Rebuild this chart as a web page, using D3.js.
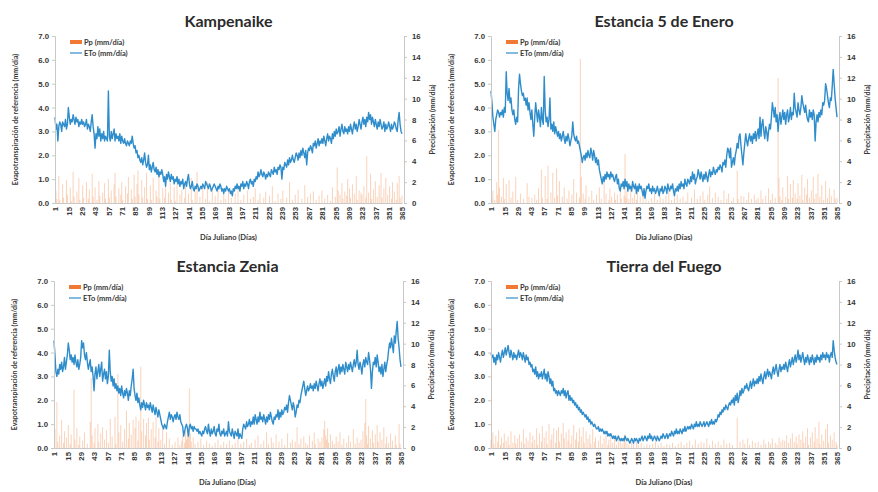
<!DOCTYPE html>
<html>
<head>
<meta charset="utf-8">
<script src="https://cdn.jsdelivr.net/npm/d3@7"></script>
<style>
  body { margin: 0; background: #fff; }
  svg { display: block; font-family: Lato, "Open Sans", sans-serif; }
  .axis path, .axis line { stroke: #c8c8c8; }
  .axis text { fill: #363636; font-size: 7.8px; font-weight: bold; }
</style>
</head>
<body>
<script>
// daily values, day 1..365 (rows of 14 days)
const etoKampenaike = [
  3.6,3.1,3.3,2.6,3.2,3.4,3.3,3.0,3.4,3.3,3.2,3.5,3.1,3.3,
  4.0,3.6,3.3,3.5,3.4,3.7,3.5,3.3,3.6,3.4,3.5,3.2,3.4,3.3,
  3.5,3.3,3.4,3.2,3.3,3.5,3.1,3.3,3.2,3.0,3.4,3.7,3.2,2.9,
  2.3,2.9,2.7,3.2,2.8,3.1,2.6,2.9,2.7,3.0,2.6,2.8,2.7,2.6,
  4.7,2.8,2.6,3.0,2.7,2.9,3.1,2.6,2.9,2.7,2.8,2.6,2.9,2.5,
  2.8,2.6,2.5,2.7,2.5,2.4,2.6,2.5,2.4,2.6,2.5,2.8,2.5,2.3,
  2.4,2.1,2.2,1.9,2.0,1.8,1.7,1.9,1.6,1.8,2.1,1.7,1.5,1.6,
  2.0,1.4,1.6,1.3,1.5,1.7,1.4,1.3,1.5,1.2,1.4,1.1,1.3,1.2,
  1.4,1.2,0.9,1.1,0.7,1.2,1.0,1.3,1.1,0.9,1.2,1.0,1.1,0.8,
  1.0,0.9,1.1,0.8,1.0,0.7,0.9,0.8,1.0,0.6,0.8,0.9,0.7,1.0,
  1.2,0.8,0.6,0.7,0.9,0.6,0.5,0.7,0.6,0.8,0.7,0.5,0.6,0.7,
  0.6,0.8,0.7,0.6,0.9,0.8,0.7,0.6,0.8,0.7,0.5,0.6,0.7,0.8,
  0.7,0.6,0.5,0.7,0.6,0.8,0.7,0.5,0.6,0.4,0.6,0.5,0.7,0.6,
  0.5,0.6,0.4,0.5,0.3,0.6,0.5,0.7,0.6,0.8,0.6,0.7,0.5,0.8,
  0.7,0.9,0.6,0.8,0.7,0.9,0.8,0.6,0.9,1.0,0.8,0.9,0.7,1.0,
  0.9,1.1,1.0,1.3,1.1,1.2,1.4,1.2,1.1,1.3,1.2,1.0,1.2,1.1,
  1.3,1.2,1.1,1.4,1.3,1.2,1.5,1.3,1.4,1.2,1.5,1.4,1.6,1.5,
  1.0,1.5,1.4,1.7,1.6,1.5,1.8,1.6,1.9,1.7,1.8,2.0,1.8,1.7,
  1.9,2.1,2.0,1.8,2.1,1.9,2.2,2.0,2.3,2.1,1.9,2.2,1.6,2.1,
  2.3,2.2,2.4,2.3,2.1,2.5,2.4,2.6,2.3,2.5,2.7,2.4,2.6,2.5,
  2.7,2.5,2.8,2.6,2.4,2.7,2.9,2.6,2.8,2.7,2.5,2.9,2.7,3.0,
  2.8,3.1,2.9,3.0,3.2,2.8,3.1,3.3,3.0,2.9,3.2,3.0,3.1,2.9,
  3.2,3.0,3.3,3.1,2.9,3.2,3.4,3.1,3.3,3.0,3.2,3.5,3.3,3.1,
  3.4,3.6,3.3,3.5,3.2,3.6,3.4,3.8,3.5,3.7,3.3,3.6,3.4,3.2,
  3.5,3.3,3.1,3.4,3.2,3.5,3.3,3.1,3.2,3.4,3.0,3.3,3.1,3.2,
  3.4,3.2,3.0,3.3,3.1,3.2,3.4,3.3,3.1,3.0,3.5,3.8,3.3,3.0,
  2.9
];
const ppKampenaike = [
  0,1.2,0.4,0,2.6,0.3,0,0,1.8,0.5,0,0,2.2,0.8,
  0,0,1.5,0.2,0,3.0,0.6,0,0,1.1,0,2.4,0.3,0,
  0,1.7,0.5,0,0,2.0,0,0.4,1.3,0,0,2.8,0.6,0,
  1.5,0,0.3,0,2.1,0.7,0,0,1.0,0,1.9,0.4,0,0,
  2.3,0.5,0,1.2,0,0,1.8,2.9,0.6,0,0,1.4,0,0.8,
  2.0,0.3,0,0,1.6,0,0.9,2.5,0,0,1.3,0.4,0,2.7,
  0.6,0,1.8,3.1,0.8,0,0,2.2,0.5,0,1.5,0,2.9,0.4,
  0,0,1.7,0.3,0,2.4,0,0,1.2,0.6,0,3.2,0.4,0,
  0,1.4,0,0.5,2.0,0,0,1.0,0,1.9,0.3,0,0,1.5,
  0.2,0,2.6,0,0,0.8,0,1.3,0,0,0.5,2.1,0,0,
  0.9,0,0,2.4,0.3,0,0,1.1,0,3.0,0,0,0.6,0,
  0,1.5,0,0,0.4,0,2.0,0,0.2,0,0,1.2,0,0,
  0.7,0,0,1.6,0,0,0.3,0,0,1.0,0,0.4,0,0,
  1.3,0,0,0.5,0,0,0,0.9,0,0,1.7,0,0,0.3,
  0,0,0.8,0,0,0,1.2,0,0,0.4,0,0,0.6,0,
  1.4,0,0,0.3,0,0.9,0,0,0,0.5,0,1.1,0,0,
  0,0.7,0,0,1.6,0,0,0.2,0,0,0.9,0,0,0.4,
  0,1.2,0,0,0,0.5,0,0,2.0,0,0,0.3,0,0,
  0.8,0,0,1.3,0,0,0,0.4,0,0,1.7,0,0,0.6,
  0,0,0.9,0,0,1.1,0,0,0.3,0,0,0.7,0,0,
  1.2,0,0,0.4,0,0,0.8,0,0,0.2,0,1.5,0,0,
  0.6,0,3.4,1.2,0,0.8,0,1.9,0.4,0,1.1,0,0.7,2.3,
  0,1.4,0.5,0,1.8,0,0.9,0,2.6,0.3,0,1.2,0,1.0,
  0.8,0,1.6,0,0.5,4.5,0,1.0,0,2.8,0.4,0,1.3,0,
  2.1,0,0.6,0,1.7,0,2.9,0.5,0,1.4,0,2.4,0,0.8,
  0,1.6,0,0.4,2.0,0,1.1,0,0.3,1.9,0,2.6,0.5,0,
  0.7
];

const etoEnero = [
  4.7,4.2,3.6,3.3,3.0,3.5,3.7,3.9,3.8,3.6,3.8,3.7,3.9,3.6,
  4.0,3.8,5.5,4.6,4.3,4.8,4.2,4.4,3.9,3.7,3.9,3.5,3.3,3.6,
  3.4,4.8,5.4,5.0,4.7,4.5,4.6,4.3,4.4,4.1,4.4,3.9,4.2,3.8,
  3.5,3.9,3.3,2.8,3.6,4.2,3.8,3.4,3.9,3.6,3.2,4.0,3.5,3.3,
  5.3,3.9,3.4,3.6,3.2,3.5,4.4,3.1,3.3,3.0,3.4,2.9,3.2,3.0,
  2.8,3.0,2.7,2.9,2.6,2.8,3.0,2.7,2.5,2.8,2.6,2.9,2.7,2.4,
  2.6,2.8,3.4,2.9,2.7,2.6,2.8,2.5,2.6,2.4,2.2,2.0,1.7,1.9,
  2.0,1.8,2.1,1.9,2.2,2.0,1.9,2.3,2.1,1.8,2.2,2.0,1.7,1.9,
  1.6,1.8,1.4,1.2,1.0,0.8,1.1,0.9,1.2,1.0,1.3,1.1,1.2,1.0,
  1.3,1.1,1.2,1.0,0.9,1.1,1.2,0.8,1.0,0.6,0.5,0.8,0.7,0.9,
  0.6,1.0,0.7,0.9,0.5,0.8,0.6,0.7,0.5,0.9,0.7,0.6,0.8,0.4,
  0.7,0.5,0.8,0.6,0.7,0.5,0.3,0.6,0.2,0.5,0.7,0.6,0.8,0.5,
  0.6,0.4,0.7,0.5,0.6,0.4,0.5,0.7,0.5,0.3,0.6,0.5,0.7,0.4,
  0.5,0.7,0.6,0.4,0.8,0.6,0.5,0.7,0.6,0.8,0.5,0.3,0.6,0.5,
  0.7,0.5,0.8,0.6,0.9,0.7,0.8,0.6,1.0,0.8,0.7,1.0,0.9,0.8,
  1.1,0.9,1.3,1.0,1.2,0.8,1.0,1.1,1.4,1.2,1.0,1.3,1.1,0.9,
  1.2,1.0,1.3,1.1,0.9,1.2,1.4,1.1,1.3,1.2,1.5,1.3,1.2,1.4,
  1.3,1.5,1.4,1.6,1.5,1.3,1.7,1.6,1.8,1.5,2.0,2.3,2.2,1.9,
  2.3,1.5,1.7,1.9,1.6,2.0,2.2,2.5,2.3,2.8,2.9,2.4,2.0,1.6,
  2.1,2.5,2.9,2.6,2.4,2.7,2.9,2.6,2.8,2.5,2.9,2.7,3.0,2.6,
  2.9,3.1,2.7,3.6,2.8,3.3,3.5,3.0,2.7,3.2,3.0,2.6,3.0,3.3,
  3.1,3.6,4.2,3.9,3.6,4.0,3.4,3.7,3.0,3.5,3.8,3.3,3.6,3.9,
  3.5,3.8,3.3,3.7,3.9,3.4,3.6,4.0,3.5,3.8,3.7,4.6,4.0,3.8,
  3.6,4.2,3.9,3.7,4.0,4.5,4.2,4.0,3.8,4.1,3.7,3.5,3.4,3.9,
  3.6,3.8,3.5,3.9,3.7,2.6,3.4,3.7,3.4,3.8,3.6,3.9,3.7,4.2,
  4.1,4.3,5.0,4.8,4.5,4.2,4.0,4.4,4.3,4.9,5.6,5.0,4.4,4.0,
  3.6
];
const ppEnero = [
  0,0.5,1.2,0,0.3,0,2.0,0.8,7.0,1.5,0,0.6,0,2.4,
  0.4,0,1.8,0,0,2.2,0,0.5,0,1.1,0,0,2.5,0,
  0.3,0,0,0.9,0,0,0.4,0,0,0,1.9,0,0.6,0,
  0,0.5,0,0,0.8,0,0.3,0,1.4,0,0,3.2,0.5,0,
  0,2.6,0,0.4,3.6,0,0,1.0,0,2.9,0,0.5,0,3.3,
  0.7,0,2.1,0,0,0.6,0,1.5,0,0,0.4,0,1.2,0,
  0,0.8,0,2.3,0,0,1.0,0,0,0.5,13.8,2.5,0,0.9,
  0,0.4,1.7,0,0,0.6,0,0,1.2,0,0.3,0,0,0.8,
  0,0,1.5,0,0.4,0,0,2.0,0,0.9,0,0,0.3,1.4,
  0,0.6,0,0,1.0,0.3,0,0.8,0,0,1.6,0.4,0,0,
  0.7,4.7,0.5,1.2,0,0.4,0,1.8,0,0.5,0,0.9,0,0.3,
  1.3,0,0,0.6,0,0,1.1,0,0,0.4,0,0,0.2,0,
  0,0.5,0,0,0.9,0,0,0.3,0,0,0.6,0,0,0.4,
  0,0,0.7,0,0,1.2,0,0,0.3,0,0,0.5,0,0,
  0.8,0,0,0.4,0,0,0.6,0,0,0.2,0,1.0,0,0,
  0,0.5,0,0,1.3,0,0,0.4,0,0,0.7,0,0,1.1,
  0,0.3,0,0,0.8,0,1.6,0,0,0.5,0,0,1.0,0,
  0,0.6,0,0,0.3,0,0,1.2,0,0,0.4,0,0.9,0,
  0,0.2,0,0.5,0,0,0,3.1,0.4,0,0,0.7,0,0,
  0.6,0,0,0.3,0,1.0,0,0,0.4,0,0,0.8,0,0.3,
  0,0.5,0,0,1.2,0,0.4,0,0,0.7,0,0,1.4,0,
  0.3,0,0.9,0,0,0.5,0,0,12.0,2.4,0.6,0,0.3,1.5,
  0,0,0.6,0,2.6,0.4,0,1.8,0,0.5,2.2,0,0.9,0,
  0.4,1.9,0,0.7,0,2.7,0.3,0,1.5,0,0.8,2.3,0,0.5,
  0,1.2,0,2.5,0.4,0,0.9,0,2.8,0,0.6,0,1.7,0,
  0.3,0,2.1,0,0.5,0,1.4,0,0.7,0,0,1.3,0.4,0,
  0.5
];

const etoZenia = [
  4.5,3.9,3.2,3.0,3.3,3.1,3.5,3.3,3.6,3.2,3.4,3.8,3.3,3.6,
  3.9,4.4,4.1,3.7,3.9,3.6,3.8,3.5,3.9,3.6,3.4,3.7,3.3,3.5,
  3.8,4.5,4.2,4.4,3.9,3.7,4.0,3.6,3.3,3.5,3.7,3.2,3.4,3.0,
  2.4,3.1,3.4,2.9,3.2,3.5,3.0,3.3,3.6,2.8,3.1,3.3,2.9,3.2,
  2.7,3.0,4.1,3.2,2.8,3.0,2.6,2.9,2.5,2.7,2.4,2.6,2.3,2.5,
  2.2,2.6,2.3,2.1,2.4,2.2,2.5,2.3,2.0,2.4,2.2,2.6,2.9,3.3,
  2.5,2.2,2.0,2.3,1.9,2.1,1.8,1.6,1.9,1.7,2.0,1.8,1.6,1.9,
  1.7,1.8,1.6,1.9,1.7,1.5,1.8,1.6,1.4,1.7,1.5,1.3,1.6,1.4,
  1.2,1.0,0.9,0.8,1.0,0.9,0.8,1.1,1.3,1.5,1.2,1.4,1.3,1.1,
  1.3,1.4,1.2,1.5,1.3,1.2,1.4,1.1,1.0,0.9,0.5,0.7,0.9,1.0,
  0.8,0.5,0.9,1.0,0.8,0.9,0.7,0.9,0.8,0.8,0.7,0.8,0.6,0.7,
  0.6,0.5,0.7,0.6,0.8,0.9,0.7,0.6,1.0,0.7,0.5,0.8,0.6,0.7,
  0.9,0.6,0.5,0.8,0.7,1.0,0.6,0.5,0.7,0.6,0.8,0.5,0.6,0.7,
  0.5,1.1,0.7,0.6,0.5,0.8,0.6,0.4,0.7,0.6,0.5,0.8,0.4,0.6,
  0.5,0.4,0.8,1.0,0.9,0.8,1.1,0.9,1.0,1.2,0.9,1.1,1.0,1.3,
  1.0,1.4,1.2,1.0,1.3,1.1,1.5,1.2,1.3,1.1,1.4,1.2,1.0,1.3,
  1.1,1.4,1.2,1.5,1.3,1.1,1.0,1.3,1.2,1.4,1.3,1.6,1.2,1.5,
  1.3,1.6,1.4,1.5,1.7,1.6,1.8,1.5,1.9,2.2,2.0,1.8,1.6,1.9,
  1.7,1.3,1.5,1.8,1.7,2.0,1.9,2.2,2.4,2.6,2.8,2.5,2.2,2.4,
  2.6,2.4,2.5,2.7,2.5,2.6,2.4,2.7,2.5,2.8,2.6,2.4,2.7,2.9,
  2.6,2.8,2.5,2.7,2.9,2.6,3.0,2.8,3.2,2.9,2.7,3.1,3.3,3.0,
  2.8,3.2,3.4,3.0,3.3,3.5,3.1,3.4,3.2,3.5,3.3,3.1,3.6,3.4,
  3.2,3.5,3.3,3.6,3.4,3.2,3.5,3.7,3.4,3.6,4.1,3.5,3.3,3.6,
  3.4,3.1,3.5,3.7,3.4,3.8,3.6,3.5,4.0,3.7,3.3,2.5,3.2,3.6,
  3.5,3.8,3.4,3.9,3.6,3.2,3.4,3.1,3.5,3.0,3.3,3.6,3.2,3.5,
  3.7,4.1,4.4,4.2,4.6,4.3,4.0,4.7,4.4,4.9,5.3,4.6,4.2,3.7,
  3.4
];
const ppZenia = [
  0,1.8,0,4.4,0.6,0,1.2,0,2.7,0,0.5,1.6,0,1.0,
  0,2.2,0,0.4,1.3,0,0,5.6,0.8,0,1.9,0,0.3,1.1,
  0,0,0.7,0,1.5,0,0,0.4,0,0,2.5,6.7,1.2,0,
  0.5,1.9,0,0,2.3,0.6,0,1.4,0,2.0,0,0.8,0,1.7,
  0,0.5,0,2.8,0,1.1,0,0,3.0,0.4,0,7.1,1.5,0,
  2.2,0,0.6,0,1.8,0,3.6,0,0.9,2.4,0,1.3,0,2.7,
  0,1.9,3.0,0,0.7,2.6,0,7.8,1.6,0,2.8,0,1.2,2.4,
  0,2.9,0.8,0,1.8,0,2.5,0,1.0,3.0,0,0.6,1.9,0,
  0.8,0,2.2,0,0.4,0,1.5,0,0,0.9,0,0,0.3,0,
  0,0.6,0,0,1.0,0,0.3,0,0.7,1.2,0,0.5,1.6,0.8,
  2.0,1.1,5.7,1.4,0.6,0,1.0,0,0.4,0,0,0.6,0,0,
  0.9,0,0,0.3,0,0,0.7,0,0,0.4,0,0,0.2,0,
  0,0.5,0,0,0.8,0,0,0.3,0,0,0.6,0,0,0.4,
  0,0,0.7,0,0,0.3,0,0,0.5,0,0,1.0,0,0,
  0.4,0,0,0.6,0,0,0.9,0,0,0.3,0,0.5,0,0,
  0,0.8,0,0,1.2,0,0,0.4,0,0,0.7,0,0,1.5,
  0,0.4,0,0,1.0,0,0.5,0,0,1.3,0,0,0.6,0,
  0,0.9,0,0,0.3,0,0,1.4,0,0,0.5,0,0.8,0,
  0,0.6,0,2.0,0,0.4,0,0.9,0,0,1.1,0,0.5,0,
  0.3,0,1.2,0,0,0.7,0,1.5,0.4,0,0,0.9,0,0.6,
  0,1.0,0,1.8,2.6,1.2,0.8,1.9,0.5,0,1.3,0,0.7,0,
  0.4,0,1.1,0,0.6,0,1.5,0,0.3,0,0.9,0,0,0.5,
  0,1.2,0,0.6,0,0,1.8,0,0.4,0,1.0,0,0.5,0,
  0.8,0,1.6,0,2.4,4.7,1.2,0.4,2.1,0,0.9,0,1.7,0.5,
  0,1.3,0,2.2,0.6,0,1.5,0,0.8,0,2.0,0,0.4,1.1,
  0,0.5,0,1.4,0,0.7,0,0,1.2,0.3,0,0,2.3,0.4,
  0
];

const etoFuego = [
  4.0,3.8,3.9,3.6,3.8,3.5,3.9,3.7,4.0,3.8,3.6,3.9,4.1,3.8,
  4.0,4.2,3.9,4.1,4.3,4.0,3.8,4.1,3.9,3.7,4.0,3.8,3.9,3.7,
  3.9,4.1,3.8,4.0,3.9,3.7,4.0,3.8,3.6,3.9,3.7,3.8,3.5,3.6,
  3.4,3.5,3.2,3.3,3.1,3.4,3.0,3.2,2.9,3.1,3.0,3.2,2.9,3.1,
  3.3,2.9,3.1,2.8,3.2,3.0,2.7,2.9,2.6,2.8,2.4,2.5,2.3,2.4,
  2.2,2.4,2.3,2.2,2.4,2.3,2.5,2.2,2.4,2.1,2.3,2.4,2.0,2.2,
  2.0,2.1,1.9,2.0,1.8,1.9,1.7,1.8,1.6,1.7,1.5,1.6,1.4,1.5,
  1.4,1.3,1.4,1.2,1.3,1.1,1.2,1.0,1.1,1.0,0.9,1.0,0.9,0.8,
  0.8,0.9,0.7,0.8,0.7,0.8,0.7,0.6,0.7,0.6,0.7,0.5,0.6,0.5,
  0.6,0.5,0.4,0.5,0.4,0.5,0.3,0.4,0.5,0.4,0.3,0.4,0.3,0.4,
  0.3,0.5,0.4,0.3,0.4,0.3,0.2,0.3,0.4,0.3,0.2,0.4,0.3,0.4,
  0.3,0.2,0.4,0.3,0.4,0.5,0.3,0.4,0.5,0.4,0.3,0.5,0.4,0.6,
  0.4,0.5,0.3,0.4,0.5,0.4,0.3,0.5,0.4,0.3,0.4,0.5,0.4,0.6,
  0.5,0.4,0.5,0.6,0.4,0.5,0.6,0.5,0.7,0.6,0.5,0.7,0.6,0.8,
  0.6,0.7,0.6,0.8,0.7,0.6,0.8,0.7,0.9,0.7,0.8,0.9,0.8,0.9,
  0.8,1.0,0.9,0.8,1.0,0.9,1.1,0.9,1.0,0.9,1.1,1.0,0.9,1.0,
  1.1,0.9,1.0,1.1,1.0,0.9,1.1,1.0,1.2,1.0,1.1,1.0,1.2,1.1,
  1.2,1.4,1.3,1.5,1.4,1.6,1.5,1.7,1.6,1.8,1.7,1.6,1.8,1.9,
  1.8,2.0,1.9,2.1,1.8,2.2,2.0,2.3,1.9,2.1,2.4,2.2,2.5,2.3,
  2.4,2.6,2.5,2.7,2.5,2.4,2.6,2.8,2.5,2.7,2.9,2.6,2.8,2.7,
  2.9,2.7,3.0,2.8,3.1,2.9,2.7,3.0,3.2,2.9,3.1,3.3,3.0,3.2,
  3.1,2.9,3.2,3.4,3.1,3.3,3.5,3.2,3.0,3.3,3.5,3.2,3.4,3.3,
  3.5,3.3,3.6,3.4,3.2,3.5,3.7,3.4,3.6,3.8,3.5,3.7,3.9,3.6,
  3.8,4.1,3.7,3.9,3.6,3.8,4.0,3.7,3.5,3.8,3.6,3.9,3.7,3.5,
  3.8,3.6,3.9,3.7,3.5,3.8,3.6,3.9,3.7,3.8,3.6,3.9,3.7,4.0,
  3.8,3.9,3.7,4.0,3.8,3.9,3.6,3.9,4.0,3.8,4.5,4.1,3.8,3.6,
  3.5
];
const ppFuego = [
  0.8,0,1.5,0.4,0,1.2,0,0.6,1.7,0,0.3,1.0,0,0.5,
  1.4,0,0.7,0,1.1,0.3,0,1.6,0,0.5,0,1.2,0.4,0,
  0.9,0,1.3,0,0.6,0,1.8,0.4,0,1.0,0,0.7,0,1.5,
  0,0.5,1.2,0,0.8,0,1.9,0.3,0,1.4,0,0.6,2.1,0,
  1.0,0,1.6,0.4,0,2.3,0,0.8,1.3,0,1.9,0,0.5,1.7,
  0,2.0,0.6,0,1.4,0,2.4,0.9,0,1.5,0,0.7,1.8,0,
  0.4,1.2,0,2.2,0,0.8,1.5,0,0.6,1.9,0,1.1,0,2.0,
  0.5,0,1.6,0,0.9,0,1.3,0.4,0,1.8,0,0.6,1.0,0,
  0,0.7,0,1.2,0,0.4,0,0.9,0,1.5,0,0.3,0.8,0,
  1.1,0,0.5,0,0.9,0,0.3,0,1.2,0,0.6,0,0.4,0,
  0.8,1.3,0,0.5,0,0.3,0,0,0.7,0,0.4,0,0,0.6,
  0,0.3,0,0,0.5,0,0,0.2,0,0,0.4,0,0,0.3,
  0,0,0.4,0,0,0.6,0,0,0.3,0,0,0.5,0,0,
  0.2,0,0,0.4,0,0,0.3,0,0,0.5,0,0,0.2,0,
  0,0.4,0,0,0.6,0,0,0.3,0,0,0.5,0,0,0.7,
  0,0,0.3,0,0,0.8,0,0,0.4,0,0,0.6,0,0,
  0.5,0,0,0.9,0,0,0.3,0,0,0.7,0,0,0.4,0,
  0,0.6,0,0,0.3,0,0,0.8,0,0,0.4,0,0,0.5,
  0,0,0.3,0,0,0,0,2.9,0,0,0.6,0,0,0.8,
  0,0.4,0,0,0.9,0,0.3,0,0,0.7,0,0,0.5,0,
  0,0.6,0,0,0.3,0,0,0.8,0,0.4,0,0,0.6,0,
  0.4,0,0.9,0,0,0.5,0,0.3,0,1.0,0,0.6,0,0.8,
  0,0.7,0,1.2,0,0.5,0,0.9,0,1.4,0,0.6,0,1.1,
  0.4,0,1.3,0,0.8,0,1.6,0.5,0,1.1,0,1.9,0.3,0,
  1.0,0,1.5,0,0.6,2.0,0,0.9,0,2.5,0.4,0,1.3,0,
  0.7,0,1.8,0,2.3,0.5,0,1.2,0,0.8,0,1.5,0,0.6,
  0.3
];

const dayTicks = [1,15,29,43,57,71,85,99,113,127,141,155,169,183,197,211,225,239,253,267,281,295,309,323,337,351,365];
const etoTicks = [0,1,2,3,4,5,6,7];
const ppTicks = [0,2,4,6,8,10,12,14,16];

let width = 878, height = 492;
let svg = d3.select('body').append('svg').attr('width', width).attr('height', height);

// plot boxes
const panels = [
  {title: 'Kampenaike', eto: etoKampenaike, pp: ppKampenaike, left: 55, right: 402, top: 36, bottom: 203},
  {title: 'Estancia 5 de Enero', eto: etoEnero, pp: ppEnero, left: 491, right: 837, top: 36, bottom: 203},
  {title: 'Estancia Zenia', eto: etoZenia, pp: ppZenia, left: 54, right: 401, top: 281, bottom: 448},
  {title: 'Tierra del Fuego', eto: etoFuego, pp: ppFuego, left: 491, right: 837, top: 281, bottom: 448}
];

function drawPanel(p) {
  let g = svg.append('g');
  let x = d3.scaleLinear().domain([1, 365]).range([p.left, p.right]);
  let yL = d3.scaleLinear().domain([0, 7]).range([p.bottom, p.top]);
  let yR = d3.scaleLinear().domain([0, 16]).range([p.bottom, p.top]);
  let cx = (p.left + p.right) / 2, cy = (p.top + p.bottom) / 2;

  // precipitation bars
  g.append('g').selectAll('rect')
    .data(p.pp)
    .enter()
      .append('rect')
      .attr('x', (d, i) => x(i + 1) - 0.5)
      .attr('width', 1)
      .attr('y', d => yR(d))
      .attr('height', d => yR(0) - yR(d))
      .attr('fill', '#f6a877')
      .attr('opacity', 0.5);

  // ETo line
  let line = d3.line().x((d, i) => x(i + 1)).y(d => yL(d));
  g.append('path')
    .datum(p.eto)
    .attr('d', line)
    .attr('fill', 'none')
    .attr('stroke', '#2f8dcb')
    .attr('stroke-width', 1.4)
    .attr('stroke-linejoin', 'round');

  // axes
  g.append('g').attr('class', 'axis')
    .attr('transform', `translate(${p.left},0)`)
    .call(d3.axisLeft(yL).tickValues(etoTicks).tickFormat(d3.format('.1f')).tickSize(3).tickPadding(3));
  g.append('g').attr('class', 'axis')
    .attr('transform', `translate(${p.right + 2},0)`)
    .call(d3.axisRight(yR).tickValues(ppTicks).tickSize(3).tickPadding(5));
  let xa = g.append('g').attr('class', 'axis')
    .attr('transform', `translate(0,${p.bottom})`)
    .call(d3.axisBottom(x).tickValues(dayTicks).tickSize(0).tickSizeOuter(0));
  xa.selectAll('text')
    .attr('transform', 'rotate(-90)')
    .attr('text-anchor', 'end')
    .attr('x', -4)
    .attr('y', 0)
    .attr('dy', '0.35em');

  // titles
  g.append('text')
    .attr('x', cx).attr('y', p.top - 9)
    .attr('text-anchor', 'middle')
    .attr('font-size', 16).attr('font-weight', 'bold').attr('fill', '#2b2b2b')
    .text(p.title);
  g.append('text')
    .attr('x', cx).attr('y', p.bottom + 37)
    .attr('text-anchor', 'middle')
    .attr('font-size', 7.5).attr('font-weight', 'bold').attr('fill', '#363636')
    .text('Día Juliano (Días)');
  g.append('text')
    .attr('transform', `translate(${p.left - 37},${cy}) rotate(-90)`)
    .attr('text-anchor', 'middle')
    .attr('font-size', 7).attr('font-weight', 'bold').attr('fill', '#363636')
    .text('Evapotranspiración de referencia (mm/día)');
  g.append('text')
    .attr('transform', `translate(${p.right + 33},${cy}) rotate(-90)`)
    .attr('text-anchor', 'middle')
    .attr('font-size', 7).attr('font-weight', 'bold').attr('fill', '#363636')
    .text('Precipitación (mm/día)');

  // legend
  let lg = g.append('g').attr('transform', `translate(${p.left + 15},${p.top + 6})`);
  lg.append('line').attr('x1', 0).attr('x2', 12).attr('y1', 0).attr('y2', 0)
    .attr('stroke', '#f07a35').attr('stroke-width', 4);
  lg.append('text').attr('x', 14).attr('y', 2.6)
    .attr('font-size', 7.5).attr('font-weight', 'bold').attr('fill', '#363636')
    .text('Pp (mm/día)');
  lg.append('line').attr('x1', 0).attr('x2', 12).attr('y1', 11).attr('y2', 11)
    .attr('stroke', '#2f8dcb').attr('stroke-width', 1.2);
  lg.append('text').attr('x', 14).attr('y', 13.6)
    .attr('font-size', 7.5).attr('font-weight', 'bold').attr('fill', '#363636')
    .text('ETo (mm/día)');
}

panels.forEach(drawPanel);
</script>
</body>
</html>
